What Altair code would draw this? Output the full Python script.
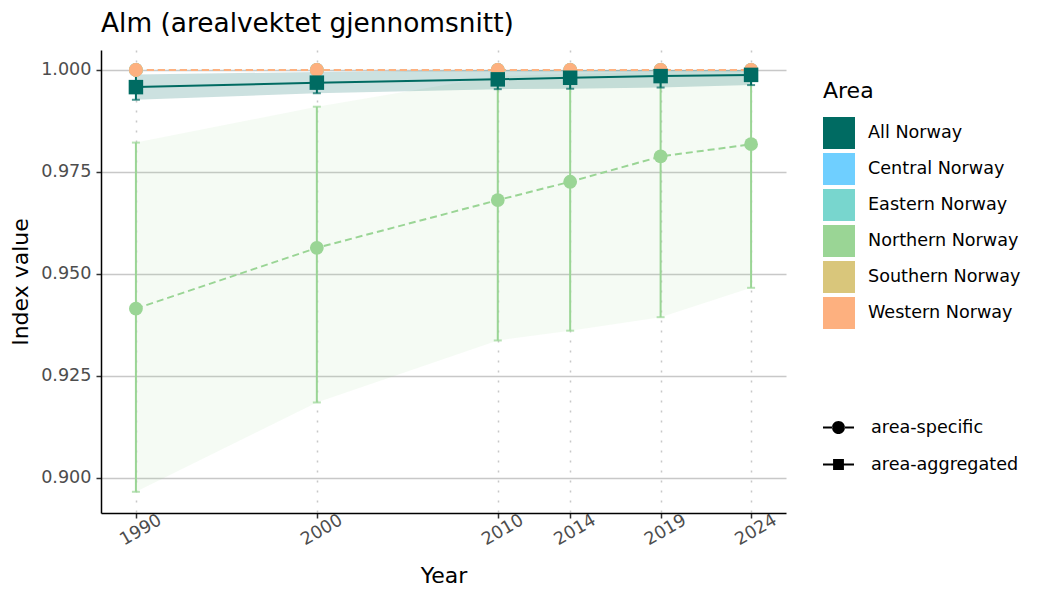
import altair as alt
import pandas as pd

years = [1990, 2000, 2010, 2014, 2019, 2024]
areas = ["All Norway", "Central Norway", "Eastern Norway", "Northern Norway", "Southern Norway", "Western Norway"]
area_colors = ["#006B62", "#6FCFFF", "#78D6CE", "#9AD595", "#D9C67B", "#FDB07F"]

all_mean = [0.9958, 0.9969, 0.9977, 0.9981, 0.9985, 0.9988]
all_low = [0.9927, 0.9943, 0.9953, 0.9954, 0.9957, 0.9963]
all_high = [0.9989, 0.9995, 1.0, 1.0, 1.0, 1.0]

north_mean = [0.9415, 0.9564, 0.9681, 0.9726, 0.9788, 0.9818]
north_low = [0.8966, 0.9185, 0.9337, 0.9361, 0.9394, 0.9466]
north_high = [0.9822, 0.9910, 0.9985, 0.9990, 0.9995, 0.9998]

ones = [1.0, 1.0, 1.0, 1.0, 1.0, 1.0]

types = ["area-specific", "area-aggregated"]

series = {
    "All Norway": (all_mean, all_low, all_high, "area-aggregated"),
    "Central Norway": (ones, ones, ones, "area-specific"),
    "Eastern Norway": (ones, ones, ones, "area-specific"),
    "Northern Norway": (north_mean, north_low, north_high, "area-specific"),
    "Southern Norway": (ones, ones, ones, "area-specific"),
    "Western Norway": (ones, ones, ones, "area-specific"),
}

rows = []
for a in areas:
    m, lo, hi, t = series[a]
    for i, yr in enumerate(years):
        rows.append({"Area": a, "Year": yr, "Value": m[i], "Lower": lo[i], "Upper": hi[i], "Type": t})
df = pd.DataFrame(rows)
spec_df = df[df["Type"] == "area-specific"]
agg_df = df[df["Type"] == "area-aggregated"]

legend_df = pd.DataFrame({"Area": areas, "Year": [2000] * 6, "Value": [2.0] * 6})
shape_df = pd.DataFrame({"Type": types, "Year": [2000, 2000], "Value": [2.0, 2.0]})

xscale = alt.Scale(domain=[1988.07, 2025.93], nice=False, zero=False)
yscale = alt.Scale(domain=[0.8914, 1.0049], nice=False, zero=False)
cscale = alt.Scale(domain=areas, range=area_colors)

X = alt.X("Year:Q", scale=xscale, title="Year",
          axis=alt.Axis(values=years, format="d", labelAngle=330, labelAlign="center",
                        labelBaseline="top", labelPadding=4, titlePadding=17, gridDash=[2, 8]))
Y = alt.Y("Value:Q", scale=yscale, title="Index value",
          axis=alt.Axis(values=[0.9, 0.925, 0.95, 0.975, 1.0], format=".3f",
                        labelPadding=5, titlePadding=8))
C = alt.Color("Area:N", scale=cscale, legend=None)

def ribbon(d, op):
    return alt.Chart(d).mark_area(opacity=op).encode(
        x=alt.X("Year:Q", scale=xscale), y=alt.Y("Lower:Q", scale=yscale), y2="Upper:Q", color=C)

rib_spec = ribbon(spec_df, 0.1)
rib_agg = ribbon(agg_df, 0.2)

line_spec = alt.Chart(spec_df).mark_line(strokeWidth=2, strokeDash=[7, 4]).encode(
    x=alt.X("Year:Q", scale=xscale), y=alt.Y("Value:Q", scale=yscale), color=C, detail="Area:N")
line_agg = alt.Chart(agg_df).mark_line(strokeWidth=2).encode(
    x=alt.X("Year:Q", scale=xscale), y=alt.Y("Value:Q", scale=yscale), color=C)

def errs(d):
    r = alt.Chart(d).mark_rule(strokeWidth=2).encode(
        x=alt.X("Year:Q", scale=xscale), y=alt.Y("Lower:Q", scale=yscale), y2="Upper:Q", color=C)
    t1 = alt.Chart(d).mark_tick(orient="horizontal", size=8, thickness=2).encode(
        x=alt.X("Year:Q", scale=xscale), y=alt.Y("Lower:Q", scale=yscale), color=C)
    t2 = alt.Chart(d).mark_tick(orient="horizontal", size=8, thickness=2).encode(
        x=alt.X("Year:Q", scale=xscale), y=alt.Y("Upper:Q", scale=yscale), color=C)
    return [r, t1, t2]

pts_spec = alt.Chart(spec_df).mark_point(filled=True, size=190, shape="circle", opacity=1).encode(
    x=alt.X("Year:Q", scale=xscale), y=alt.Y("Value:Q", scale=yscale), color=C)
pts_agg = alt.Chart(agg_df).mark_point(filled=True, size=210, shape="square", opacity=1).encode(
    x=alt.X("Year:Q", scale=xscale), y=alt.Y("Value:Q", scale=yscale), color=C)

axes_layer = alt.Chart(df).mark_point(opacity=0).encode(x=X, y=Y)

color_legend = alt.Chart(legend_df).mark_square(filled=True, clip=True, opacity=1).encode(
    x=alt.X("Year:Q", scale=xscale), y=alt.Y("Value:Q", scale=yscale),
    color=alt.Color("Area:N", scale=cscale, legend=alt.Legend(
        title="Area", orient="none", legendX=722, legendY=31, symbolType="square",
        symbolSize=1024, symbolStrokeWidth=0, symbolOpacity=1, labelFontSize=17.6,
        titleFontSize=22, titleFontWeight="normal", titleColor="black", labelColor="black",
        titlePadding=14, rowPadding=4, labelOffset=13, padding=0)))

circ_path = ("M-1,-0.065 L-0.4,-0.065 L-0.4,0.065 L-1,0.065 Z "
             "M0.4,-0.065 L1,-0.065 L1,0.065 L0.4,0.065 Z "
             "M-0.42,0 A0.42,0.42 0 1,0 0.42,0 A0.42,0.42 0 1,0 -0.42,0 Z")
sq_path = ("M-1,-0.065 L-0.34,-0.065 L-0.34,0.065 L-1,0.065 Z "
           "M0.34,-0.065 L1,-0.065 L1,0.065 L0.34,0.065 Z "
           "M-0.35,-0.35 L0.35,-0.35 L0.35,0.35 L-0.35,0.35 Z")

shape_legend = alt.Chart(shape_df).mark_point(filled=True, clip=True, color="black", opacity=1).encode(
    x=alt.X("Year:Q", scale=xscale), y=alt.Y("Value:Q", scale=yscale),
    shape=alt.Shape("Type:N", scale=alt.Scale(domain=types, range=[circ_path, sq_path]),
                    legend=alt.Legend(title=None, orient="none", legendX=722, legendY=362,
                                      symbolSize=961, symbolStrokeWidth=0, labelFontSize=17.6,
                                      labelColor="black", rowPadding=12, labelOffset=17, padding=0)))

layers = [axes_layer, color_legend, shape_legend, rib_spec, rib_agg, line_spec, line_agg] + \
         errs(spec_df) + errs(agg_df) + [pts_spec, pts_agg]

chart = alt.layer(*layers).properties(
    width=685, height=463,
    title=alt.Title("Alm (arealvektet gjennomsnitt)", anchor="start", frame="group", fontSize=26.4,
                    fontWeight="normal", color="black", offset=13),
    autosize=alt.AutoSizeParams(type="none"),
    padding={"left": 93, "top": 42, "right": 240, "bottom": 82},
).configure(font="DejaVu Sans").configure_view(stroke=None).configure_axis(
    domainColor="black", domainWidth=1.5, tickColor="#333333", tickSize=5, tickWidth=1.5,
    labelColor="#4D4D4D", labelFontSize=17.6, titleFontSize=22, titleColor="black",
    titleFontWeight="normal", gridColor="#C8C8C8", gridWidth=1.5,
).configure_legend(labelFont="DejaVu Sans", titleFont="DejaVu Sans")

chart.save("out.html", embed_options={"renderer": "svg", "actions": False})
